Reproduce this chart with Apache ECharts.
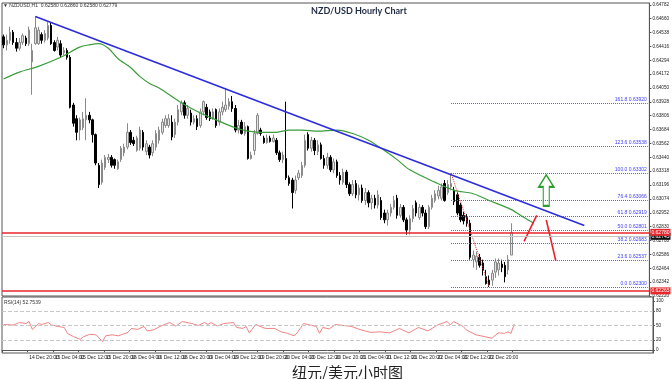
<!DOCTYPE html>
<html><head><meta charset="utf-8">
<script src="https://cdn.jsdelivr.net/npm/echarts@6/dist/echarts.min.js"></script>
<style>html,body{margin:0;padding:0;background:#fff;}#c{width:672px;height:379px;}</style>
</head><body><div id="c"></div>
<script>
// ---------- data ----------
const xTickLabels = ['14 Dec 2022','14 Dec 20:00','15 Dec 04:00','15 Dec 12:00','15 Dec 20:00','16 Dec 04:00','16 Dec 12:00','16 Dec 20:00','19 Dec 04:00','19 Dec 12:00','19 Dec 20:00','20 Dec 04:00','20 Dec 12:00','20 Dec 20:00','21 Dec 04:00','21 Dec 12:00','21 Dec 20:00','22 Dec 04:00','22 Dec 12:00','22 Dec 20:00','23 Dec 04:00'];

const openVals = [
.6450,.6443,.6447,.6454,.6445,.6440,.6445,.6449,.6444,.6428,
.6444,.6444,.6452,.6447,.6449,.6460,.6445,.6441,.6444,.6436,
.6438,.6432,.6390,.6378,.6368,.6370,.6377,.6381,.6377,.6364,
.6337,.6322,.6335,.6342,.6344,.6342,.6334,.6342,.6348,.6353,
.6366,.6359,.6350,.6352,.6366,.6349,.6353,.6348,.6353,.6359,
.6366,.6372,.6372,.6375,.6364,.6375,.6384,.6392,.6381,.6383,
.6375,.6378,.6372,.6384,.6388,.6384,.6378,.6386,.6375,.6384,
.6386,.6389,.6393,.6387,.6368,.6375,.6365,.6371,.6343,.6350,
.6365,.6368,.6361,.6357,.6361,.6358,.6359,.6348,.6342,.6343,
.6326,.6324,.6315,.6326,.6328,.6337,.6364,.6352,.6359,.6349,
.6355,.6343,.6337,.6344,.6333,.6340,.6328,.6322,.6331,.6320,
.6312,.6321,.6311,.6317,.6306,.6313,.6304,.6308,.6302,.6306,
.6295,.6289,.6295,.6300,.6308,.6293,.6300,.6289,.6280,.6290,
.6304,.6291,.6300,.6295,.6283,.6300,.6306,.6310,.6308,.6321,
.6313,.6318,.6315,.6311,.6302,.6293,.6291,.6286,.6254,.6252,
.6256,.6251,.6239,.6236,.6236,.6243,.6245,.6250,.6249,.6245,
.6258];
const closeVals = [
.6443,.6447,.6454,.6445,.6440,.6445,.6451,.6444,.6456,.6438,
.6458,.6456,.6447,.6453,.6460,.6444,.6438,.6447,.6434,.6438,
.6432,.6388,.6374,.6366,.6377,.6378,.6381,.6377,.6364,.6339,
.6320,.6339,.6344,.6344,.6337,.6337,.6340,.6352,.6353,.6366,
.6357,.6356,.6361,.6368,.6353,.6356,.6346,.6356,.6365,.6368,
.6375,.6378,.6378,.6362,.6375,.6386,.6392,.6381,.6387,.6375,
.6378,.6371,.6384,.6393,.6379,.6378,.6384,.6372,.6384,.6388,
.6390,.6393,.6387,.6368,.6372,.6365,.6371,.6343,.6346,.6365,
.6381,.6365,.6357,.6361,.6358,.6361,.6348,.6342,.6346,.6326,
.6321,.6313,.6324,.6330,.6337,.6359,.6352,.6359,.6350,.6355,
.6343,.6337,.6344,.6333,.6340,.6328,.6324,.6331,.6320,.6312,
.6320,.6311,.6317,.6306,.6313,.6304,.6308,.6302,.6311,.6291,
.6289,.6295,.6300,.6306,.6293,.6300,.6289,.6280,.6290,.6299,
.6295,.6300,.6295,.6283,.6300,.6308,.6312,.6315,.6318,.6306,
.6320,.6321,.6305,.6295,.6289,.6288,.6286,.6256,.6258,.6257,
.6249,.6245,.6233,.6232,.6242,.6252,.6251,.6247,.6239,.6254,
.62779];
const lowVals = [
.6440,.6438,.6444,.6443,.6437,.6438,.6443,.6442,.6442,.6399,
.6443,.6443,.6444,.6445,.6447,.6443,.6437,.6438,.6432,.6434,
.6430,.6387,.6371,.6359,.6359,.6368,.6359,.6374,.6357,.6337,
.6317,.6320,.6333,.6339,.6335,.6334,.6333,.6340,.6345,.6351,
.6355,.6354,.6349,.6350,.6350,.6346,.6343,.6345,.6350,.6356,
.6364,.6370,.6370,.6359,.6361,.6372,.6381,.6378,.6378,.6372,
.6373,.6368,.6370,.6381,.6377,.6376,.6377,.6370,.6372,.6381,
.6384,.6386,.6384,.6366,.6365,.6364,.6363,.6342,.6342,.6346,
.6364,.6363,.6356,.6356,.6357,.6357,.6346,.6340,.6339,.6324,
.6319,.6299,.6312,.6324,.6326,.6335,.6350,.6349,.6346,.6346,
.6342,.6334,.6334,.6331,.6330,.6326,.6320,.6320,.6317,.6310,
.6310,.6308,.6306,.6304,.6302,.6300,.6298,.6299,.6299,.6289,
.6286,.6284,.6292,.6298,.6290,.6291,.6287,.6276,.6276,.6287,
.6292,.6289,.6292,.6281,.6281,.6298,.6304,.6307,.6306,.6305,
.6311,.6315,.6302,.6293,.6287,.6285,.6283,.6254,.6247,.6245,
.6247,.6240,.6232,.6230,.6231,.6238,.6240,.6243,.6234,.6241,
.6258];
const highVals = [
.6452,.6452,.6459,.6456,.6449,.6449,.6453,.6451,.6459,.6444,
.6468,.6459,.6454,.6456,.6463,.6463,.6447,.6450,.6447,.6441,
.6440,.6434,.6392,.6381,.6379,.6384,.6396,.6384,.6378,.6365,
.6339,.6342,.6346,.6347,.6346,.6343,.6342,.6354,.6356,.6374,
.6368,.6362,.6363,.6371,.6368,.6359,.6355,.6359,.6368,.6371,
.6378,.6381,.6382,.6381,.6378,.6390,.6394,.6394,.6390,.6386,
.6381,.6381,.6387,.6394,.6391,.6386,.6387,.6387,.6387,.6393,
.6405,.6396,.6398,.6390,.6377,.6377,.6375,.6372,.6349,.6368,
.6383,.6370,.6363,.6364,.6363,.6364,.6361,.6350,.6349,.6393,
.6328,.6326,.6328,.6333,.6340,.6364,.6366,.6362,.6361,.6359,
.6357,.6346,.6348,.6346,.6343,.6342,.6331,.6334,.6333,.6322,
.6324,.6324,.6320,.6320,.6317,.6315,.6311,.6311,.6315,.6309,
.6298,.6298,.6303,.6310,.6311,.6303,.6302,.6291,.6293,.6302,
.6306,.6303,.6302,.6298,.6302,.6311,.6315,.6319,.6321,.6324,
.6324,.6330,.6318,.6313,.6304,.6296,.6294,.6289,.6262,.6261,
.6259,.6254,.6245,.6240,.6245,.6255,.6255,.6254,.6252,.6258,
.6286];

// moving average read at points along the green line: [bar index, price]
const maPoints = [[0,.6413],[5,.6419],[11,.6424],[18,.6432],[24,.6441],[27,.6443],[30,.6444],[33,.6440],[36,.6431],[40,.6423],[43,.6415],[46,.6409],[49,.6405],[56,.6392],[62,.6383],[67,.6377],[73,.6370],[77,.6367],[81,.6366],[86,.6366],[90,.6368],[94,.6368],[99,.6367],[105,.6368],[110,.6365],[115,.6359],[120,.6350],[124,.6342],[128,.6333],[136,.6322],[142,.6315],[148,.6312],[153,.6306],[160,.6298],[164,.6291],[167,.6286]];

// RSI(14) read at points: [bar index, value]
const rsiPoints = [[0,52],[3,51],[5,56],[7,54],[8,58],[9,42],[11,54],[12,52],[14,56],[15,51],[17,48],[19,46],[20,34],[22,27],[24,22],[25,27],[27,32],[29,31],[31,17],[32,29],[34,31],[36,29],[39,36],[40,44],[42,42],[44,48],[45,39],[47,41],[49,48],[52,56],[54,49],[56,58],[59,54],[61,50],[63,56],[64,52],[65,56],[67,49],[69,54],[72,56],[73,46],[75,44],[76,48],[77,35],[79,52],[82,44],[85,44],[87,37],[89,34],[91,29],[92,35],[94,54],[96,51],[98,48],[99,34],[100,46],[102,43],[104,52],[109,48],[112,41],[115,36],[118,37],[121,35],[124,44],[127,35],[130,46],[133,39],[136,51],[139,58],[140,51],[141,58],[144,48],[145,41],[148,31],[151,27],[153,24],[155,35],[157,34],[158,37],[159,34],[160,52.75]];

const fibRatios = ['0.0','23.6','38.2','50.0','61.8','76.4','100.0','123.6','161.8'];
const fibPrices = [0.62300,0.62537,0.62683,0.62801,0.62919,0.63066,0.63302,0.63538,0.63920];

const trendLine = [[10,0.6468],[183,0.6284]];
const fibDiagonal = [[141,0.6330],[153,0.6230]];
const redStrokes = [[[164,0.6270],[168,0.6293]],[[171,0.6289],[174,0.6253]]];
const arrowAt = [171,0.6315];
const resistancePrice = 0.62780;
const supportPrice = 0.62265;
const bidPrice = 0.62745;
const rsiLevels = [20,50,80];
const rsiTickValues = [0,20,50,80,100];
const priceMin = 0.6222, priceMax = 0.64798, priceStep = 0.00122;

// ---------- chart ----------
const slots = 204;
const cats = Array.from({length: slots}, (_, i) => String(i));
const candles = openVals.map((o, i) => [o, closeVals[i], lowVals[i], highVals[i]]);
const tickShown = i => i % 8 === 0 && i / 8 < xTickLabels.length;
const smallFont = {fontFamily: 'Liberation Sans', fontSize: 5, color: '#222'};

const markLines = [];
fibPrices.forEach((p, k) => {
  markLines.push([
    {coord: [141, p], lineStyle: {color: '#5b5bff', type: 'dotted', width: 1},
     label: {show: true, position: 'insideEndTop', formatter: fibRatios[k] + ' ' + p.toFixed(5),
             color: '#3c3cff', fontSize: 5, fontFamily: 'Liberation Sans', distance: 1}},
    {coord: [slots - 1, p]}
  ]);
});
markLines.push([{coord: trendLine[0], lineStyle: {color: '#2c2cdc', width: 1.6, type: 'solid'}}, {coord: trendLine[1]}]);
markLines.push([{coord: fibDiagonal[0], lineStyle: {color: '#e03030', width: 1, type: 'dotted'}}, {coord: fibDiagonal[1]}]);
redStrokes.forEach(s => markLines.push([{coord: s[0], lineStyle: {color: '#e8222a', width: 1.6, type: 'solid'}}, {coord: s[1]}]));

const priceBox = (bg) => ({show: true, position: 'end', backgroundColor: bg, color: '#fff', fontSize: 5, padding: [1, 1], distance: 1, fontFamily: 'Liberation Sans'});
const levelLines = [
  {yAxis: bidPrice, lineStyle: {color: '#c4c4c4', width: 1, type: 'solid'}, label: Object.assign(priceBox('#111'), {formatter: bidPrice.toFixed(5)})},
  {yAxis: resistancePrice, lineStyle: {color: '#e8262b', width: 1.5, type: 'solid'}, label: Object.assign(priceBox('#e8262b'), {formatter: resistancePrice.toFixed(5)})},
  {yAxis: supportPrice, lineStyle: {color: '#e8262b', width: 1.5, type: 'solid'}, label: Object.assign(priceBox('#e8262b'), {formatter: supportPrice.toFixed(5)})}
];

const chart = echarts.init(document.getElementById('c'), null, {renderer: 'canvas'});
chart.setOption({
  animation: false,
  backgroundColor: '#fff',
  title: [
    {text: 'NZD/USD Hourly Chart', left: 306, top: 2, textStyle: {fontFamily: 'Lato', fontWeight: 'bold', fontSize: 9, color: '#1f2a44'}},
    {text: '纽元/美元小时图', left: 287, top: 360, textStyle: {fontFamily: 'Noto Sans CJK SC', fontWeight: 'normal', fontSize: 15, color: '#222'}}
  ],
  graphic: [
    {type: 'text', x: 3, y: 6, style: {text: '\u25BC NZDUSD,H1  0.62580 0.62860 0.62580 0.62779', font: '5px Liberation Sans', fill: '#333', verticalAlign: 'middle'}},
    {type: 'text', x: 4, y: 303, style: {text: 'RSI(14) 52.7539', font: '5px Liberation Sans', fill: '#333', verticalAlign: 'middle'}}
  ],
  grid: [
    {left: 2, right: 19, top: 3, height: 293, show: true, borderColor: '#555', borderWidth: 1},
    {left: 2, right: 19, top: 297, height: 56, show: true, borderColor: '#555', borderWidth: 1}
  ],
  xAxis: [
    {type: 'category', gridIndex: 0, data: cats, boundaryGap: true, axisLine: {show: false}, axisTick: {show: false}, axisLabel: {show: false}, splitLine: {show: false}},
    {type: 'category', gridIndex: 1, data: cats, boundaryGap: true,
     axisLine: {show: true, lineStyle: {color: '#555'}},
     axisTick: {show: true, length: 2, interval: (i) => tickShown(i), lineStyle: {color: '#555'}},
     axisLabel: Object.assign({interval: (i) => tickShown(i), formatter: (v) => xTickLabels[parseInt(v, 10) / 8] || '', align: 'left', margin: 2}, smallFont),
     splitLine: {show: false}}
  ],
  yAxis: [
    {type: 'value', gridIndex: 0, position: 'right', min: priceMin, max: priceMax, interval: priceStep,
     axisLine: {show: true, lineStyle: {color: '#555'}}, axisTick: {show: true, length: 2, lineStyle: {color: '#555'}},
     axisLabel: {formatter: v => v.toFixed(5), margin: 3, showMaxLabel: false, fontSize: 4.6, fontFamily: 'Liberation Sans', color: '#222'},
     splitLine: {show: false}},
    {type: 'value', gridIndex: 1, position: 'right', min: -6, max: 108,
     axisLine: {show: true, lineStyle: {color: '#555'}},
     axisTick: {show: true, length: 2, customValues: rsiTickValues, lineStyle: {color: '#555'}},
     axisLabel: {customValues: rsiTickValues, margin: 3, fontSize: 4.6, fontFamily: 'Liberation Sans', color: '#222'},
     splitLine: {show: false}}
  ],
  series: [
    {type: 'candlestick', xAxisIndex: 0, yAxisIndex: 0, data: candles, barWidth: 2,
     itemStyle: {color: '#e4e4e4', color0: '#000', borderColor: '#8a8a8a', borderColor0: '#000', borderWidth: 1},
     markLine: {symbol: ['none', 'none'], precision: 5, silent: true, animation: false, label: {show: false}, data: markLines},
     markPoint: {silent: true, animation: false, data: [{coord: arrowAt,
       symbol: 'path://M7.5,0 L15,12 L10.5,12 L10.5,31 L4.5,31 L4.5,12 L0,12 Z', symbolSize: [15, 31],
       itemStyle: {color: 'rgba(0,0,0,0)', borderColor: '#2e9e2e', borderWidth: 1.5}, label: {show: false}}]}},
    {type: 'line', xAxisIndex: 0, yAxisIndex: 0, data: maPoints, symbol: 'none', smooth: 0.3, z: 3,
     lineStyle: {color: '#3c9c3c', width: 1.2},
     markLine: {symbol: ['none', 'none'], precision: 5, silent: true, animation: false, data: levelLines}},
    {type: 'line', xAxisIndex: 1, yAxisIndex: 1, data: rsiPoints, symbol: 'none',
     lineStyle: {color: '#f08484', width: 1},
     markLine: {symbol: ['none', 'none'], silent: true, animation: false, label: {show: false},
       lineStyle: {color: '#c8c8c8', type: 'dashed', width: 1}, data: rsiLevels.map(v => ({yAxis: v}))}}
  ]
});
</script>
</body></html>
